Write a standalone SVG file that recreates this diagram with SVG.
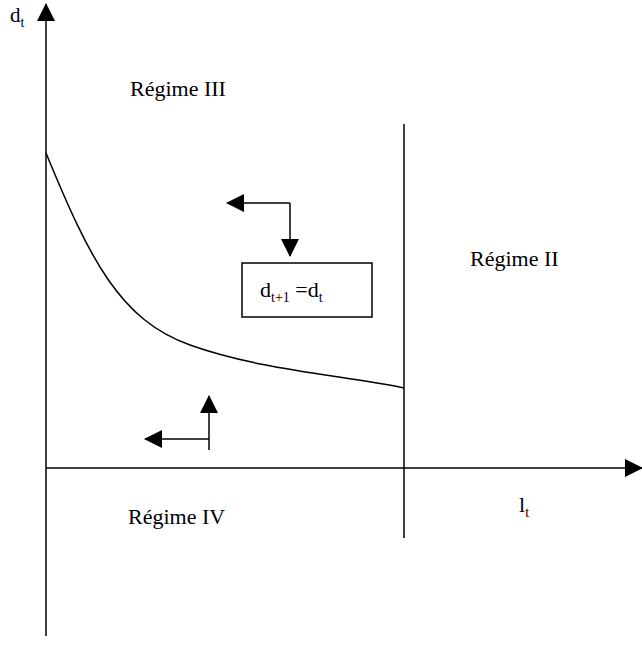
<svg xmlns="http://www.w3.org/2000/svg" width="642" height="646" viewBox="0 0 642 646">
<defs>
<marker id="ahb" markerWidth="18" markerHeight="18" refX="17" refY="9" orient="auto" markerUnits="userSpaceOnUse">
<path d="M0,0 L18,9 L0,18 z" fill="#000"/>
</marker>
</defs>
<rect width="642" height="646" fill="#fff"/>
<g id="connectors" stroke="#000" stroke-width="1.5" fill="none">
<line x1="46" y1="636" x2="46" y2="4" marker-end="url(#ahb)"/>
<line x1="46" y1="468" x2="642" y2="468" marker-end="url(#ahb)"/>
<line x1="404" y1="124" x2="404" y2="538"/>
<path d="M46,153 C90,260 120,320 190,345 C260,370 340,375 404,388"/>
<path d="M290,203 L227,203" marker-end="url(#ahb)"/>
<path d="M290,203 L290,256" marker-end="url(#ahb)"/>
<path d="M209,450 L209,396" marker-end="url(#ahb)"/>
<path d="M209,439 L145,439" marker-end="url(#ahb)"/>
</g>
<g id="box" font-family="Liberation Serif, Times New Roman, serif" font-size="22" fill="#000">
<rect x="242" y="263" width="130" height="54" fill="#fff" stroke="#000" stroke-width="1.5"/>
<text x="260" y="297">d<tspan font-size="14" dy="5">t+1</tspan><tspan dy="-5"> =d</tspan><tspan font-size="14" dy="5">t</tspan></text>
</g>
<g id="labels" font-family="Liberation Serif, Times New Roman, serif" font-size="22" fill="#000">
<text x="10" y="22" font-size="21">d<tspan font-size="14" dy="5">t</tspan></text>
<text x="130" y="96">Régime III</text>
<text x="470" y="266">Régime II</text>
<text x="128" y="524">Régime IV</text>
<text x="519" y="512">l<tspan font-size="14" dy="5">t</tspan></text>
</g>
</svg>
